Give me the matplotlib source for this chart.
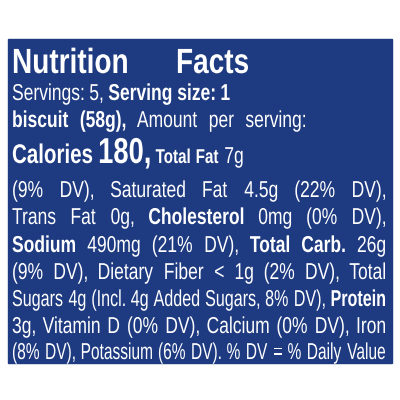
import matplotlib
matplotlib.use("Agg")
import matplotlib.pyplot as plt
from matplotlib.patches import Rectangle, PathPatch
from matplotlib.textpath import TextPath
from matplotlib.font_manager import FontProperties
from matplotlib.transforms import Affine2D

bg = "#1e3a80"
regular = FontProperties(family="Liberation Sans")
bold = FontProperties(family="Liberation Sans", weight="bold")

title = "Nutrition Facts"
# each line: list of (text, bold, size in px)
lines = [
    [("Servings: 5,", False, 23), ("Serving size: 1", True, 23)],
    [("biscuit (58g),", True, 23), ("Amount per serving:", False, 23)],
    [("Calories", True, 27), ("180,", True, 36), ("Total Fat", True, 20), ("7g", False, 23)],
    [("(9% DV), Saturated Fat 4.5g (22% DV),", False, 23)],
    [("Trans Fat 0g,", False, 23), ("Cholesterol", True, 23), ("0mg (0% DV),", False, 23)],
    [("Sodium", True, 23), ("490mg (21% DV),", False, 23), ("Total Carb.", True, 23), ("26g", False, 23)],
    [("(9% DV), Dietary Fiber < 1g (2% DV), Total", False, 23)],
    [("Sugars 4g (Incl. 4g Added Sugars, 8% DV),", False, 23), ("Protein", True, 23)],
    [("3g, Vitamin D (0% DV), Calcium (0% DV), Iron", False, 23)],
    [("(8% DV), Potassium (6% DV). % DV = % Daily Value", False, 23)],
]
baselines = [100, 127, 163, 197, 224, 252, 279, 306, 333, 359]
right_edge = [None, 305, None, 385, 385, 385, 385, 385, 385, 385]

fig = plt.figure(figsize=(4, 4), dpi=100)
ax = fig.add_axes([0, 0, 1, 1])
ax.set_xlim(0, 400)
ax.set_ylim(400, 0)
ax.axis("off")
ax.add_patch(Rectangle((8, 39), 384, 324, color=bg))


def draw_words(words, y, left, right=None, sx=0.76, gap=6):
    paths = []
    for w, b, s in words:
        p = TextPath((0, 0), w, size=s, prop=bold if b else regular)
        ext = p.get_extents()
        paths.append((p, ext.x1 * sx))
    if right is not None and len(paths) > 1:
        total = sum(wd for _, wd in paths)
        avail = right - left
        if total + gap * (len(paths) - 1) > avail:
            k = (avail - gap * (len(paths) - 1)) / total
            sx *= k
            paths = [(p, wd * k) for p, wd in paths]
            total *= k
        gap = (avail - total) / (len(paths) - 1)
    x = left
    for p, wd in paths:
        tr = Affine2D().scale(sx, -1).translate(x, y) + ax.transData
        ax.add_patch(PathPatch(p, facecolor="white", edgecolor="none", transform=tr))
        x += wd + gap


draw_words([(w, True, 35) for w in title.split(" ")], 73, 12, 248, sx=0.8, gap=9)

for segs, y, r in zip(lines, baselines, right_edge):
    words = []
    for txt, b, s in segs:
        for w in txt.split(" "):
            words.append((w, b, s))
    draw_words(words, y, 12, r)

fig.savefig("out.png", dpi=100, facecolor="white")
